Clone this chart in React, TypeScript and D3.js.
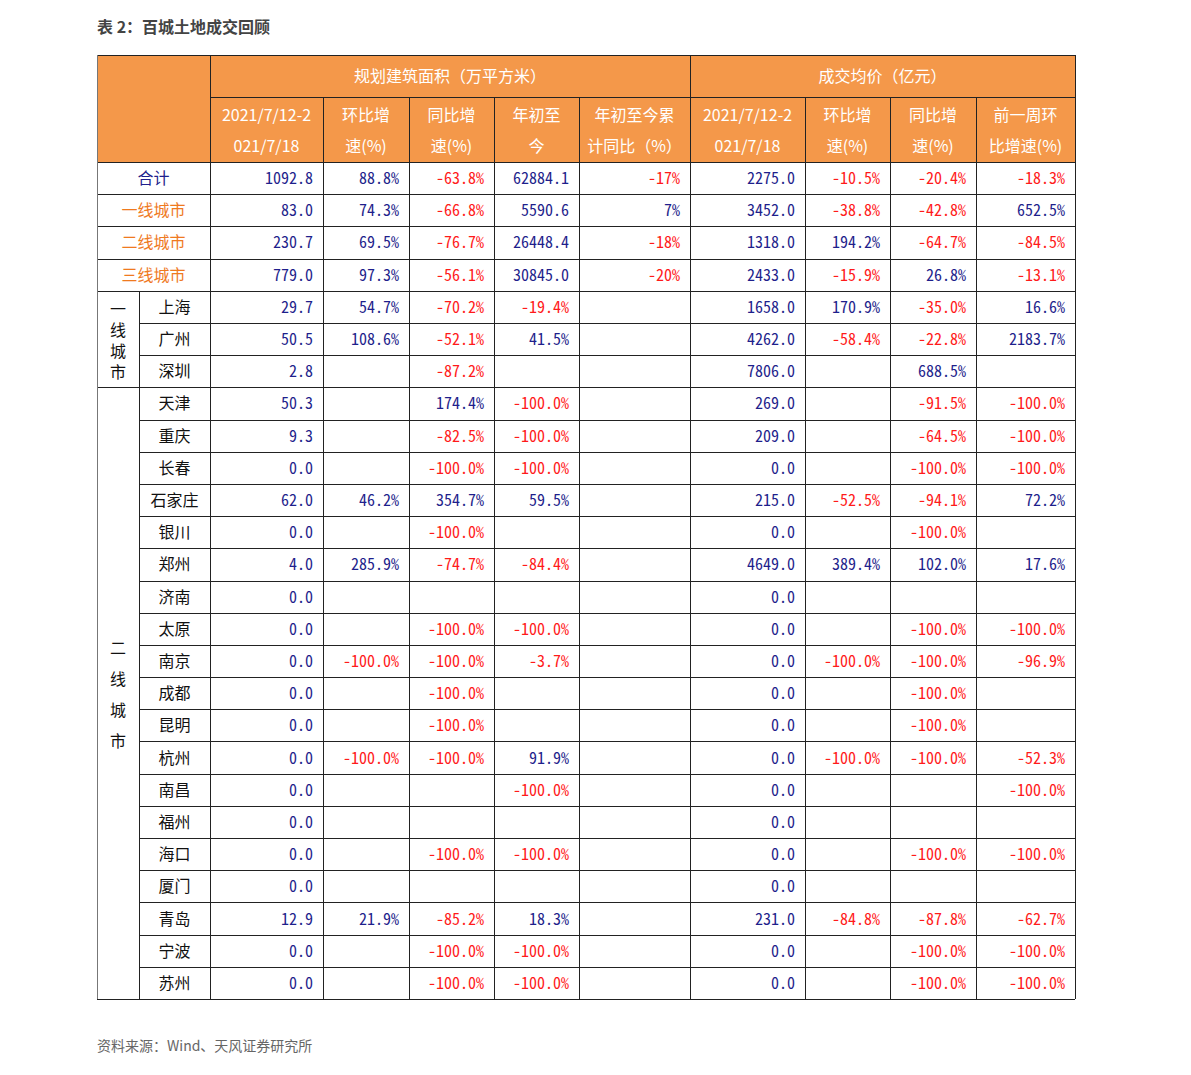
import React from "react";
import * as d3 from "d3";

const title = "表 2：百城土地成交回顾";
const source = "资料来源：Wind、天风证券研究所";
const groupHeaders = ["规划建筑面积（万平方米）", "成交均价（亿元）"];
const subHeaders = [
  ["2021/7/12-2", "021/7/18"],
  ["环比增", "速(%)"],
  ["同比增", "速(%)"],
  ["年初至", "今"],
  ["年初至今累", "计同比（%）"],
  ["2021/7/12-2", "021/7/18"],
  ["环比增", "速(%)"],
  ["同比增", "速(%)"],
  ["前一周环", "比增速(%)"],
];

const rowNames = [
  "合计", "一线城市", "二线城市", "三线城市",
  "上海", "广州", "深圳",
  "天津", "重庆", "长春", "石家庄", "银川", "郑州", "济南", "太原", "南京",
  "成都", "昆明", "杭州", "南昌", "福州", "海口", "厦门", "青岛", "宁波", "苏州",
];
const summaryRows = ["合计", "一线城市", "二线城市", "三线城市"];
const tierGroups = [
  { label: "一线城市", first: "上海", last: "深圳", spacing: 5 },
  { label: "二线城市", first: "天津", last: "苏州", spacing: 15 },
];

const area = ["1092.8","83.0","230.7","779.0","29.7","50.5","2.8","50.3","9.3","0.0","62.0","0.0","4.0","0.0","0.0","0.0","0.0","0.0","0.0","0.0","0.0","0.0","0.0","12.9","0.0","0.0"];
const areaWoW = ["88.8%","74.3%","69.5%","97.3%","54.7%","108.6%","","","","","46.2%","","285.9%","","","-100.0%","","","-100.0%","","","","","21.9%","",""];
const areaYoY = ["-63.8%","-66.8%","-76.7%","-56.1%","-70.2%","-52.1%","-87.2%","174.4%","-82.5%","-100.0%","354.7%","-100.0%","-74.7%","","-100.0%","-100.0%","-100.0%","-100.0%","-100.0%","","","-100.0%","","-85.2%","-100.0%","-100.0%"];
const ytd = ["62884.1","5590.6","26448.4","30845.0","-19.4%","41.5%","","-100.0%","-100.0%","-100.0%","59.5%","","-84.4%","","-100.0%","-3.7%","","","91.9%","-100.0%","","-100.0%","","18.3%","-100.0%","-100.0%"];
const ytdYoY = ["-17%","7%","-18%","-20%","","","","","","","","","","","","","","","","","","","","","",""];
const price = ["2275.0","3452.0","1318.0","2433.0","1658.0","4262.0","7806.0","269.0","209.0","0.0","215.0","0.0","4649.0","0.0","0.0","0.0","0.0","0.0","0.0","0.0","0.0","0.0","0.0","231.0","0.0","0.0"];
const priceWoW = ["-10.5%","-38.8%","194.2%","-15.9%","170.9%","-58.4%","","","","","-52.5%","","389.4%","","","-100.0%","","","-100.0%","","","","","-84.8%","",""];
const priceYoY = ["-20.4%","-42.8%","-64.7%","26.8%","-35.0%","-22.8%","688.5%","-91.5%","-64.5%","-100.0%","-94.1%","-100.0%","102.0%","","-100.0%","-100.0%","-100.0%","-100.0%","-100.0%","","","-100.0%","","-87.8%","-100.0%","-100.0%"];
const prevWoW = ["-18.3%","652.5%","-84.5%","-13.1%","16.6%","2183.7%","","-100.0%","-100.0%","-100.0%","72.2%","","17.6%","","-100.0%","-96.9%","","","-52.3%","-100.0%","","-100.0%","","-62.7%","-100.0%","-100.0%"];

const columns = [area, areaWoW, areaYoY, ytd, ytdYoY, price, priceWoW, priceYoY, prevWoW];

// layout
const colEdges = [97, 139, 210, 323, 409, 494, 579, 690, 805, 890, 976, 1075];
const tableTop = 55;
const head1 = 97;
const head2 = 162;
const tableBottom = 999;

const ORANGE = "#F4984A";
const BLUE = "#1f1f8c";
const RED = "#ff1a1a";
const TIER = "#ef7a1f";
const LINE = "#222";
const CJK = "'Noto Sans CJK SC', 'Noto Sans', sans-serif";
const MONO = "'Noto Sans Mono CJK SC', 'Noto Sans CJK SC', 'DejaVu Sans Mono', monospace";

export default function App() {
  const y = d3.scaleBand<string>().domain(rowNames).range([head2, tableBottom]);
  const bw = y.bandwidth();
  const dataLeft = colEdges.slice(2, colEdges.length - 1);
  const dataRight = colEdges.slice(3);
  const rowIndex = (n: string) => rowNames.indexOf(n);

  return (
    <svg width={1191} height={1075} style={{ position: "absolute", left: 0, top: 0 }} fontFamily={CJK}>
      <rect width={1191} height={1075} fill="#fff" />
      <text x={97} y={33} fontSize={16} fontWeight="bold" fill="#444">{title}</text>

      <rect x={colEdges[0]} y={tableTop} width={colEdges[11] - colEdges[0]} height={head2 - tableTop} fill={ORANGE} />

      <text x={(colEdges[2] + colEdges[7]) / 2} y={(tableTop + head1) / 2 + 6} textAnchor="middle" fontSize={16} fill="#fff">{groupHeaders[0]}</text>
      <text x={(colEdges[7] + colEdges[11]) / 2} y={(tableTop + head1) / 2 + 6} textAnchor="middle" fontSize={16} fill="#fff">{groupHeaders[1]}</text>

      {subHeaders.map((lines, i) => (
        <g key={"sh" + i}>
          {lines.map((t, j) => (
            <text key={j} x={(dataLeft[i] + dataRight[i]) / 2} y={head1 + 24 + j * 31} textAnchor="middle" fontSize={16} fill="#fff">{t}</text>
          ))}
        </g>
      ))}

      {rowNames.map((name) => {
        const isSummary = summaryRows.includes(name);
        const cx = isSummary ? (colEdges[0] + colEdges[2]) / 2 : (colEdges[1] + colEdges[2]) / 2;
        return (
          <text key={"n" + name} x={cx} y={(y(name) as number) + bw / 2 + 6} textAnchor="middle" fontSize={16}
            fill={name === "合计" ? BLUE : isSummary ? TIER : "#111"}>{name}</text>
        );
      })}

      {tierGroups.map((g) => {
        const top = y(g.first) as number;
        const bottom = (y(g.last) as number) + bw;
        const mid = (top + bottom) / 2 + g.spacing / 2 + 1;
        return (
          <text key={g.label} x={(colEdges[0] + colEdges[1]) / 2} y={mid} textAnchor="middle"
            style={{ writingMode: "vertical-rl" as any }} letterSpacing={g.spacing} fontSize={16} fill="#111">{g.label}</text>
        );
      })}

      {rowNames.map((name, r) =>
        columns.map((col, c) => {
          const v = col[r];
          if (!v) return null;
          return (
            <text key={name + c} x={dataRight[c] - 10} y={(y(name) as number) + bw / 2 + 6} textAnchor="end"
              fontSize={16} fontFamily={MONO} fill={v.startsWith("-") ? RED : BLUE}>{v}</text>
          );
        })
      )}

      <g stroke={LINE} strokeWidth={1} shapeRendering="crispEdges">
        <line x1={colEdges[0]} x2={colEdges[11]} y1={tableTop} y2={tableTop} />
        <line x1={colEdges[2]} x2={colEdges[11]} y1={head1} y2={head1} />
        <line x1={colEdges[0]} x2={colEdges[11]} y1={head2} y2={head2} />
        <line x1={colEdges[11]} x2={colEdges[11]} y1={tableTop} y2={tableBottom} />
        <line x1={colEdges[2]} x2={colEdges[2]} y1={tableTop} y2={tableBottom} />
        <line x1={colEdges[7]} x2={colEdges[7]} y1={tableTop} y2={tableBottom} />
        {[3, 4, 5, 6, 8, 9, 10].map((k) => (
          <line key={"v" + k} x1={colEdges[k]} x2={colEdges[k]} y1={head1} y2={tableBottom} />
        ))}
        <line x1={colEdges[1]} x2={colEdges[1]} y1={y("上海") as number} y2={tableBottom} />
        {rowNames.map((name) => {
          const r = rowIndex(name);
          const yy = Math.round((y(name) as number) + bw);
          const inGroup = (r >= 4 && r < 6) || (r >= 7 && r < rowNames.length - 1);
          const x1 = inGroup ? colEdges[1] : colEdges[0];
          return <line key={"h" + name} x1={x1} x2={colEdges[11]} y1={yy} y2={yy} />;
        })}
      </g>
      <line x1={colEdges[0]} x2={colEdges[0]} y1={tableTop} y2={tableBottom} stroke="#777" strokeWidth={1} shapeRendering="crispEdges" />

      <text x={97} y={1051} fontSize={14} fill="#666">{source}</text>
    </svg>
  );
}
